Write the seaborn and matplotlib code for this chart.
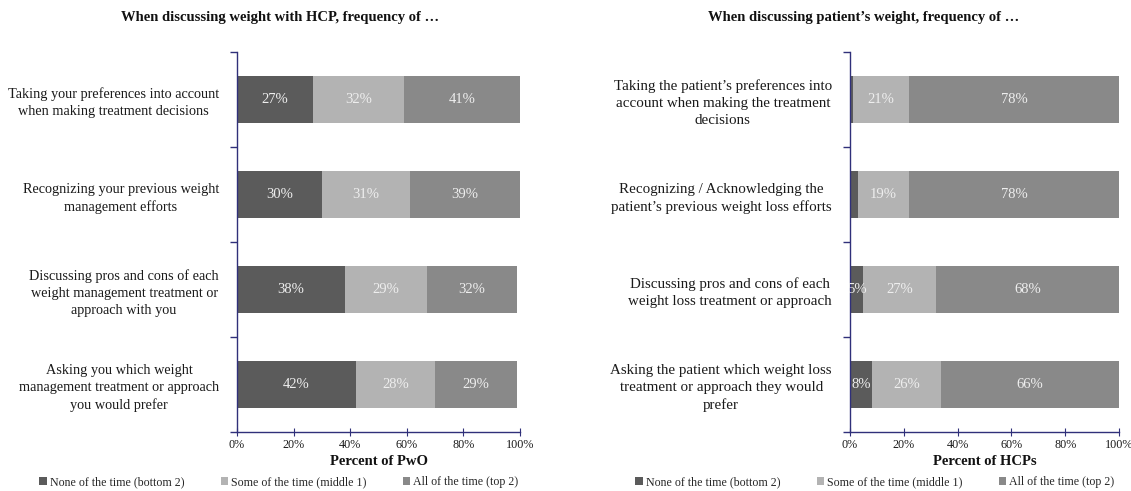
import numpy as np
import pandas as pd
import matplotlib
matplotlib.use("Agg")
import matplotlib.pyplot as plt
import seaborn as sns
from matplotlib.patches import Patch
from matplotlib.ticker import FixedLocator, PercentFormatter

# --- data -------------------------------------------------------------
series_names = ["None of the time (bottom 2)",
                "Some of the time (middle 1)",
                "All of the time (top 2)"]

pwo_items = ["Taking your preferences into account\nwhen making treatment decisions",
             "Recognizing your previous weight\nmanagement efforts",
             "Discussing pros and cons of each\nweight management treatment or\napproach with you",
             "Asking you which weight\nmanagement treatment or approach\nyou would prefer"]
pwo_none = [27, 30, 38, 42]
pwo_some = [32, 31, 29, 28]
pwo_all = [41, 39, 32, 29]

hcp_items = ["Taking the patient\u2019s preferences into\naccount when making the treatment\ndecisions",
             "Recognizing / Acknowledging the\npatient\u2019s previous weight loss efforts",
             "Discussing pros and cons of each\nweight loss treatment or approach",
             "Asking the patient which weight loss\ntreatment or approach they would\nprefer"]
hcp_none = [1, 3, 5, 8]
hcp_some = [21, 19, 27, 26]
hcp_all = [78, 78, 68, 66]

pwo_title = "When discussing weight with HCP, frequency of \u2026"
hcp_title = "When discussing patient\u2019s weight, frequency of \u2026"
pwo_xlabel = "Percent of PwO"
hcp_xlabel = "Percent of HCPs"
x_ticks = [0, 20, 40, 60, 80, 100]

# --- style ------------------------------------------------------------
sns.set_theme(style="white")
plt.rcParams["font.family"] = ["Liberation Serif", "DejaVu Serif"]
seg_colors = ["#5b5b5b", "#b3b3b3", "#898989"]
axis_color = "#30307a"
label_color = "#eeeeee"


def draw_panel(ax, items, none, some, all_, xlabel, label_size):
    df = pd.DataFrame({"item": items, "none": none, "some": some, "all": all_})
    df["c1"] = df["none"]
    df["c2"] = df["none"] + df["some"]
    df["c3"] = df["c2"] + df["all"]
    # overlapping cumulative bars give the stacked look
    for col, colr in zip(["c3", "c2", "c1"], seg_colors[::-1]):
        sns.barplot(data=df, x=col, y="item", order=items, orient="h",
                    color=colr, saturation=1, width=0.5, ax=ax,
                    edgecolor="none", linewidth=0)
    # segment labels
    for i, row in df.iterrows():
        starts = [0, row["c1"], row["c2"]]
        vals = [row["none"], row["some"], row["all"]]
        for s, v in zip(starts, vals):
            if v >= 4:
                ax.text(s + v / 2, i, f"{v}%", ha="center", va="center",
                        color=label_color, fontsize=10.5)
    n = len(items)
    ax.set_xlim(0, 100)
    ax.set_ylim(n - 0.5, -0.5)
    ax.xaxis.set_major_locator(FixedLocator(x_ticks))
    ax.xaxis.set_major_formatter(PercentFormatter(decimals=0))
    ax.set_yticks(range(n))
    ax.set_yticklabels(items)
    ax.yaxis.set_minor_locator(FixedLocator(np.arange(-0.5, n, 1.0)))
    ax.tick_params(axis="y", which="major", length=0, pad=13,
                   labelsize=label_size, labelcolor="#1a1a1a")
    ax.tick_params(axis="y", which="minor", length=5, width=1,
                   color=axis_color, direction="out", left=True)
    ax.tick_params(axis="x", which="major", length=6, width=0.8,
                   color=axis_color, direction="inout", bottom=True,
                   labelsize=8.7, labelcolor="#1a1a1a", pad=2)
    for lab in ax.get_yticklabels():
        lab.set_multialignment("center")
        lab.set_linespacing(1.4)
    ax.set_ylabel("")
    ax.set_xlabel(xlabel, fontsize=10.5, fontweight="bold", labelpad=3,
                  color="#111111")
    for side in ["top", "right"]:
        ax.spines[side].set_visible(False)
    for side in ["left", "bottom"]:
        ax.spines[side].set_color(axis_color)
        ax.spines[side].set_linewidth(1)
    handles = [Patch(facecolor=c, edgecolor="none") for c in seg_colors]
    return handles


fig = plt.figure(figsize=(11.31, 4.91), dpi=100)
ax1 = fig.add_axes([237 / 1131, 1 - 432 / 491, 283 / 1131, 380 / 491])
ax2 = fig.add_axes([850 / 1131, 1 - 432 / 491, 269 / 1131, 380 / 491])

h1 = draw_panel(ax1, pwo_items, pwo_none, pwo_some, pwo_all, pwo_xlabel, 10.3)
h2 = draw_panel(ax2, hcp_items, hcp_none, hcp_some, hcp_all, hcp_xlabel, 10.8)

fig.text(280 / 1131, 1 - 18 / 491, pwo_title, ha="center", va="center",
         fontsize=10.5, fontweight="bold", color="#111111")
fig.text(864 / 1131, 1 - 18 / 491, hcp_title, ha="center", va="center",
         fontsize=10.5, fontweight="bold", color="#111111")

legend_kw = dict(ncol=3, frameon=False, fontsize=8.6, handlelength=0.6,
                 handleheight=0.6, handletextpad=0.3, columnspacing=3.0,
                 loc="center")
fig.legend(h1, series_names, bbox_to_anchor=(279 / 1131, 1 - 482 / 491),
           **legend_kw)
fig.legend(h2, series_names, bbox_to_anchor=(875 / 1131, 1 - 482 / 491),
           **legend_kw)

fig.savefig("out.png", dpi=100, facecolor="white")
